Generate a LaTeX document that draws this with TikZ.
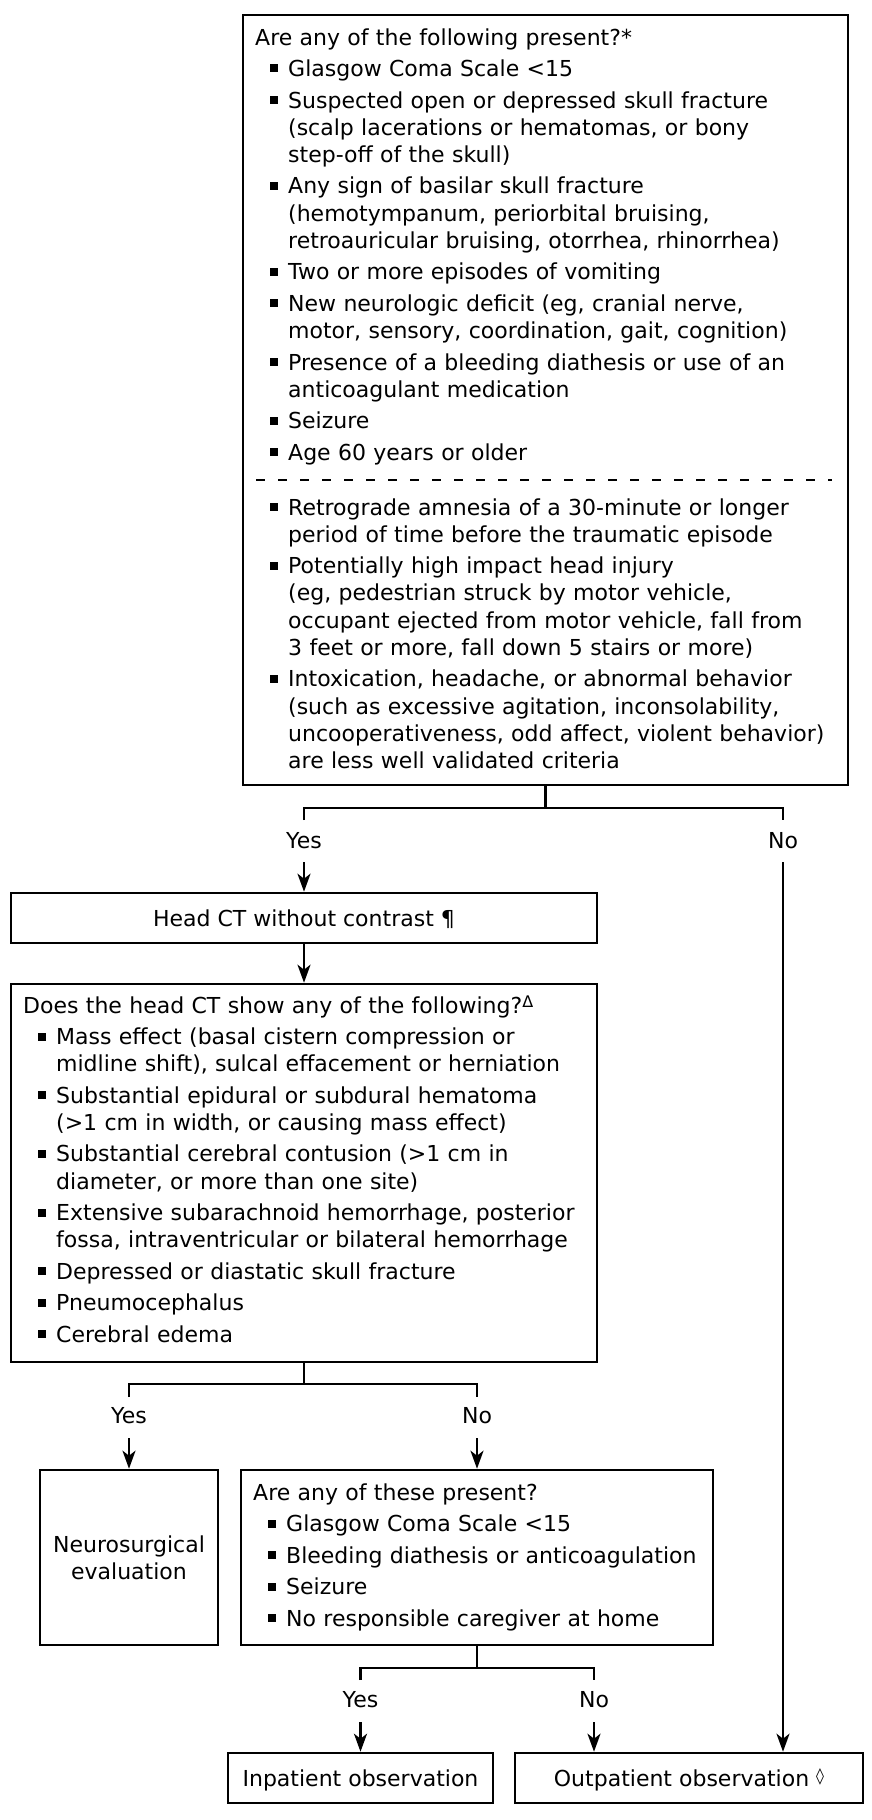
\documentclass[tikz,border=0pt]{standalone}
\usepackage{fontspec}
\setmainfont{DejaVu Sans}
\usetikzlibrary{arrows.meta}
\newcommand{\fsz}{\fontsize{22}{27.2}\selectfont}
\newcommand{\bul}{\llap{\raisebox{4pt}{\rule{8pt}{8pt}}\hspace{10pt}}}
\newcommand{\bix}[1]{{\leftskip=33pt\noindent\bul #1\par}}
\newcommand{\bi}[1]{\par\vspace{4.3pt}\bix{#1}}
\newcommand{\sups}[2][6pt]{\raisebox{#1}{\fontsize{16}{16}\selectfont #2}}
\tikzset{
  box/.style={draw, line width=2.6pt, inner sep=0pt, rectangle},
  onebox/.style={box, font=\fsz, text height=18pt, text depth=2pt},
  txt/.style={inner sep=0pt, anchor=base west, text width=#1, align=left, font=\fsz},
  lbl/.style={inner sep=0pt, anchor=base, font=\fsz},
  conn/.style={line width=2.4pt},
  arr/.style={line width=2.4pt, -{Stealth[length=18pt,width=13pt,inset=5pt]}},
  dashline/.style={line width=2pt, dash pattern=on 9pt off 13pt}
}
\begin{document}
\begin{tikzpicture}[x=1pt,y=1pt]
\useasboundingbox[fill=white] (0,0) rectangle (872,-1820);

% ---------- boxes ----------
\node[box, minimum width=605, minimum height=770] (q1) at (545.5,-400) {};
\node[onebox, minimum width=586, minimum height=50] (ct) at (304,-918) {Head CT without contrast ¶};
\node[box, minimum width=586, minimum height=378] (q2) at (304,-1173) {};
\node[box, font=\fsz, align=center, minimum width=178, minimum height=175] (ns) at (129,-1557.5) {Neurosurgical\\evaluation};
\node[box, minimum width=472, minimum height=175] (q3) at (477,-1557.5) {};
\node[onebox, minimum width=265, minimum height=50] (inp) at (360.5,-1778) {Inpatient observation};
\node[onebox, minimum width=348, minimum height=50] (outp) at (689,-1778) {Outpatient observation \sups[5pt]{◊}};

% ---------- texts ----------
\node[txt=585pt] (q1a) at (255,-45) {Are any of the following present?*
\bi{Glasgow Coma Scale <15}
\bi{Suspected open or depressed skull fracture\newline (scalp lacerations or hematomas, or bony\newline step-off of the skull)}
\bi{Any sign of basilar skull fracture\newline (hemotympanum, periorbital bruising,\newline retroauricular bruising, otorrhea, rhinorrhea)}
\bi{Two or more episodes of vomiting}
\bi{New neurologic deficit (eg, cranial nerve,\newline motor, sensory, coordination, gait, cognition)}
\bi{Presence of a bleeding diathesis or use of an\newline anticoagulant medication}
\bi{Seizure}
\bi{Age 60 years or older}};

\coordinate (d1) at (256,-480);
\coordinate (d2) at (832,-480);
\draw[dashline] (d1) -- (d2);

\node[txt=585pt] (q1b) at (255,-515) {\bix{Retrograde amnesia of a 30-minute or longer\newline period of time before the traumatic episode}
\bi{Potentially high impact head injury\newline (eg, pedestrian struck by motor vehicle,\newline occupant ejected from motor vehicle, fall from\newline 3 feet or more, fall down 5 stairs or more)}
\bi{Intoxication, headache, or abnormal behavior\newline (such as excessive agitation, inconsolability,\newline uncooperativeness, odd affect, violent behavior)\newline are less well validated criteria}};

\node[txt=570pt] (q2a) at (23,-1013) {Does the head CT show any of the following?\sups{Δ}
\bi{Mass effect (basal cistern compression or\newline midline shift), sulcal effacement or herniation}
\bi{Substantial epidural or subdural hematoma\newline (>1 cm in width, or causing mass effect)}
\bi{Substantial cerebral contusion (>1 cm in\newline diameter, or more than one site)}
\bi{Extensive subarachnoid hemorrhage, posterior\newline fossa, intraventricular or bilateral hemorrhage}
\bi{Depressed or diastatic skull fracture}
\bi{Pneumocephalus}
\bi{Cerebral edema}};

\node[txt=455pt] (q3a) at (253,-1500) {Are any of these present?
\bi{Glasgow Coma Scale <15}
\bi{Bleeding diathesis or anticoagulation}
\bi{Seizure}
\bi{No responsible caregiver at home}};

% ---------- level 1 branch ----------
\coordinate (j1) at (545.5,-808);
\coordinate (y1s) at (304,-820);
\coordinate (y1j) at (304,-808);
\coordinate (n1j) at (783,-808);
\coordinate (n1s) at (783,-820);
\coordinate (y1a) at (304,-862);
\coordinate (n1a) at (783,-862);
\draw[conn] (q1.south) -- (j1);
\draw[conn] (y1s) -- (y1j) -- (n1j) -- (n1s);
\node[lbl] (y1) at (304,-848) {Yes};
\node[lbl] (n1) at (783,-848) {No};
\draw[arr] (y1a) -- (ct.north);
\draw[arr] (n1a) -- (n1a |- outp.north);

\draw[arr] (ct.south) -- (q2.north);

% ---------- level 2 branch ----------
\coordinate (j2) at (304,-1384);
\coordinate (y2s) at (129,-1397);
\coordinate (y2j) at (129,-1384);
\coordinate (n2j) at (477,-1384);
\coordinate (n2s) at (477,-1397);
\coordinate (y2a) at (129,-1438);
\coordinate (n2a) at (477,-1438);
\draw[conn] (q2.south) -- (j2);
\draw[conn] (y2s) -- (y2j) -- (n2j) -- (n2s);
\node[lbl] (y2) at (129,-1423) {Yes};
\node[lbl] (n2) at (477,-1423) {No};
\draw[arr] (y2a) -- (ns.north);
\draw[arr] (n2a) -- (q3.north);

% ---------- level 3 branch ----------
\coordinate (j3) at (477,-1668);
\coordinate (y3s) at (360.5,-1680);
\coordinate (y3j) at (360.5,-1668);
\coordinate (n3j) at (594,-1668);
\coordinate (n3s) at (594,-1680);
\coordinate (y3a) at (360.5,-1722);
\coordinate (n3a) at (594,-1722);
\draw[conn] (q3.south) -- (j3);
\draw[conn] (y3s) -- (y3j) -- (n3j) -- (n3s);
\node[lbl] (y3) at (360.5,-1707) {Yes};
\node[lbl] (n3) at (594,-1707) {No};
\draw[arr] (y3a) -- (inp.north);
\draw[arr] (n3a) -- (n3a |- outp.north);
\end{tikzpicture}
\end{document}
